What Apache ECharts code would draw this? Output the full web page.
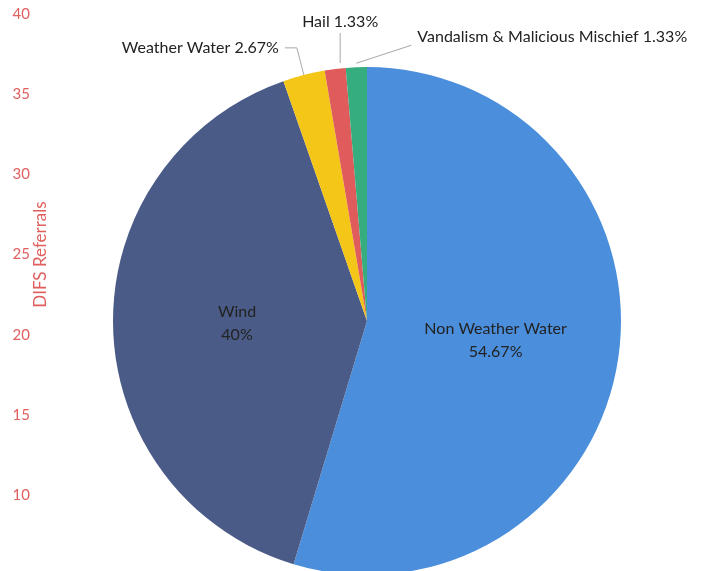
<!DOCTYPE html>
<html>
<head>
<meta charset="utf-8">
<title>DIFS Referrals</title>
<script src="https://cdn.jsdelivr.net/npm/echarts@6/dist/echarts.min.js"></script>
<style>
  html, body { margin: 0; padding: 0; background: #fff; }
  #chart { width: 703px; height: 571px; }
</style>
</head>
<body>
<div id="chart"></div>
<script>
// referral counts by peril
var categories = ['Non Weather Water', 'Wind', 'Weather Water', 'Hail', 'Vandalism & Malicious Mischief'];
var referrals = [41, 30, 2, 1, 1];
var sliceColors = ['#4a8edc', '#4b5b87', '#f4c618', '#e05b5b', '#35ad7e'];
var insideSlices = ['Non Weather Water', 'Wind'];

// left axis
var axisMin = 10;
var axisMax = 40;
var axisStep = 5;
var axisTitle = 'DIFS Referrals';

var font = 'Lato, "Open Sans", sans-serif';
var red = '#e0605f';

var pieData = categories.map(function (name, i) {
  var item = { name: name, value: referrals[i], itemStyle: { color: sliceColors[i] } };
  if (insideSlices.indexOf(name) >= 0) {
    item.label = { position: 'inside', formatter: '{b}\n{d}%', lineHeight: 23 };
    item.labelLine = { show: false };
  }
  return item;
});

var chart = echarts.init(document.getElementById('chart'));
chart.setOption({
  animation: false,
  grid: { left: 35, right: 20, top: 14, bottom: 76 },
  xAxis: { type: 'value', show: false },
  yAxis: {
    type: 'value',
    min: axisMin,
    max: axisMax,
    interval: axisStep,
    axisLine: { show: false },
    axisTick: { show: false },
    splitLine: { show: false },
    axisLabel: { color: red, fontSize: 15, fontFamily: font, margin: 5 },
    name: axisTitle,
    nameLocation: 'middle',
    nameGap: -14,
    nameMoveOverlap: false,
    nameTextStyle: { color: red, fontSize: 17, fontFamily: font }
  },
  series: [{
    type: 'pie',
    center: [367, 321],
    radius: 254,
    startAngle: 90,
    clockwise: true,
    avoidLabelOverlap: false,
    data: pieData,
    label: {
      position: 'outside',
      formatter: '{b} {d}%',
      color: '#222',
      fontSize: 16,
      fontFamily: font,
      distanceToLabelLine: 6
    },
    labelLine: {
      length: 28,
      length2: 12,
      lineStyle: { color: '#a6a6a6', width: 1 }
    },
    labelLayout: function (p) {
      var pts = p.labelLinePoints;
      if (p.dataIndex === 3 && pts) {
        var a = pts[0];
        var b = [a[0] + 5, a[1] - 36];
        return { x: b[0], y: b[1] - 3, align: 'center', verticalAlign: 'bottom', labelLinePoints: [[a[0] + 5, a[1] - 6], b] };
      }
      if (p.dataIndex === 4 && pts) {
        var s = [pts[0][0], pts[0][1] - 4];
        var e = [s[0] + 55, s[1] - 18];
        return { x: e[0] + 6, y: e[1] - 8, align: 'left', verticalAlign: 'middle', labelLinePoints: [s, e] };
      }
      return {};
    }
  }]
});
</script>
</body>
</html>
